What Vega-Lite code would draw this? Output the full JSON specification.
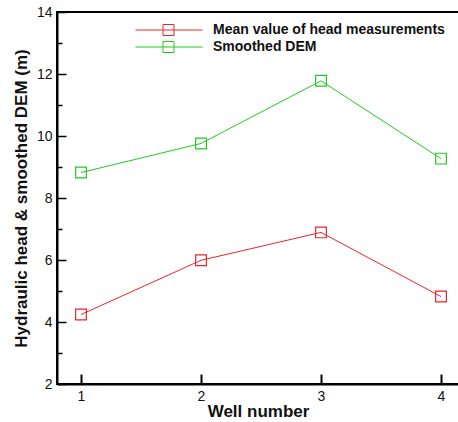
{
  "$schema": "https://vega.github.io/schema/vega-lite/v6.json",
  "width": 402,
  "height": 372,
  "autosize": "none",
  "padding": {"left": 57, "top": 12, "right": 0, "bottom": 38},
  "background": "white",
  "config": {
    "view": {"stroke": "black", "strokeWidth": 2},
    "font": "Liberation Sans"
  },
  "data": {
    "values": [
      {"well": 1, "value": 4.24, "series": "Mean value of head measurements"},
      {"well": 2, "value": 5.99, "series": "Mean value of head measurements"},
      {"well": 3, "value": 6.89, "series": "Mean value of head measurements"},
      {"well": 4, "value": 4.82, "series": "Mean value of head measurements"},
      {"well": 1, "value": 8.82, "series": "Smoothed DEM"},
      {"well": 2, "value": 9.76, "series": "Smoothed DEM"},
      {"well": 3, "value": 11.78, "series": "Smoothed DEM"},
      {"well": 4, "value": 9.27, "series": "Smoothed DEM"}
    ]
  },
  "encoding": {
    "x": {
      "field": "well", "type": "quantitative",
      "scale": {"domain": [0.8, 4.15], "nice": false, "zero": false},
      "axis": {
        "title": "Well number", "values": [1, 2, 3, 4], "format": "d", "zindex": 2,
        "domainColor": "black", "domainWidth": 2,
        "ticks": true, "tickColor": "#000000", "tickWidth": 2, "tickSize": -10, "tickOpacity": 1,
        "labelFontSize": 14, "labelColor": "#111", "labelPadding": 15,
        "titleFontSize": 17, "titleFontWeight": "bold", "titleColor": "#111", "titlePadding": 0,
        "grid": false
      }
    },
    "y": {
      "field": "value", "type": "quantitative",
      "scale": {"domain": [2, 14], "nice": false, "zero": false},
      "axis": {
        "title": "Hydraulic head & smoothed DEM (m)",
        "values": [2, 2.5, 3, 3.5, 4, 4.5, 5, 5.5, 6, 6.5, 7, 7.5, 8, 8.5, 9, 9.5, 10, 10.5, 11, 11.5, 12, 12.5, 13, 13.5, 14],
        "format": "d", "zindex": 2,
        "labelExpr": "datum.value % 2 === 0 ? datum.label : ''",
        "domainColor": "black", "domainWidth": 2,
        "ticks": true, "tickColor": "#000000", "tickWidth": 1.5, "tickOpacity": 1,
        "tickSize": {"condition": {"test": "datum.value % 2 === 0", "value": -9}, "value": -5},
        "labelFontSize": 14, "labelColor": "#111", "labelPadding": 14,
        "titleFontSize": 17, "titleFontWeight": "bold", "titleColor": "#111", "titlePadding": 6,
        "grid": false
      }
    },
    "color": {
      "field": "series", "type": "nominal",
      "scale": {"domain": ["Mean value of head measurements", "Smoothed DEM"], "range": ["#e8262a", "#22c922"]},
      "legend": {
        "title": null, "orient": "none", "legendX": 104.5, "legendY": 11,
        "symbolType": "M-6,0H6.2M-1,-1H1V1H-1Z",
        "symbolSize": 121, "symbolFillColor": "transparent", "symbolStrokeWidth": 1,
        "labelFontSize": 14, "labelFontWeight": "bold", "labelColor": "#111", "labelLimit": 400,
        "labelOffset": 37.5, "rowPadding": 1
      }
    }
  },
  "layer": [
    {"mark": {"type": "line", "strokeWidth": 1}},
    {"mark": {"type": "point", "shape": "square", "filled": false, "size": 115, "strokeWidth": 1.2, "opacity": 1}}
  ]
}
